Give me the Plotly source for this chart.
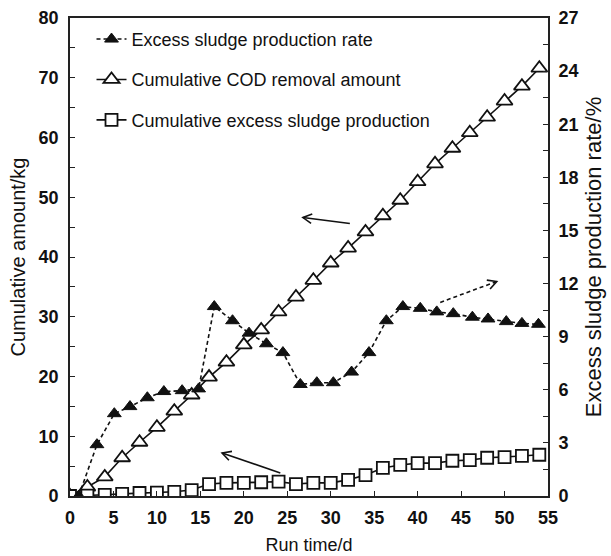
import math
import plotly.graph_objects as go

# ---------------- data ----------------
run_days = [0, 2, 4, 6, 8, 10, 12, 14, 16, 18, 20, 22, 24, 26, 28,
            30, 32, 34, 36, 38, 40, 42, 44, 46, 48, 50, 52, 54]
cod_removal = [0, 1.5, 3.2, 6.4, 9.0, 11.5, 14.2, 16.9, 19.9, 22.4, 25.3, 27.8, 30.8, 33.3, 36.1,
               39.0, 41.5, 44.2, 46.9, 49.5, 52.6, 55.6, 58.2, 60.8, 63.4, 66.1, 68.6, 71.6]
sludge_cum = [0, 0.05, 0.2, 0.35, 0.5, 0.55, 0.7, 1.0, 2.0, 2.2, 2.2, 2.3, 2.4, 2.0, 2.2,
              2.2, 2.7, 3.5, 4.7, 5.2, 5.5, 5.5, 5.9, 6.0, 6.4, 6.5, 6.7, 6.9]

rate_days = [1, 3.1, 5.1, 6.9, 8.9, 10.8, 12.9, 14.8, 16.6, 18.7, 20.6, 22.6, 24.5, 26.5,
             28.4, 30.3, 32.4, 34.4, 36.4, 38.3, 40.3, 42.2, 44.1, 46.3, 48.1, 50.2, 52.0, 53.9]
rate_pct = [0, 2.9, 4.65, 5.05, 5.55, 5.9, 5.95, 6.05, 10.7, 9.9, 9.2, 8.6, 8.1, 6.3,
            6.4, 6.4, 7.0, 8.1, 9.9, 10.7, 10.6, 10.4, 10.3, 10.1, 10.0, 9.85, 9.75, 9.7]

names = ["Excess sludge production rate", "Cumulative COD removal amount",
         "Cumulative excess sludge production"]

x_range = [0, 55]
y_range = [0, 80]
y2_range = [0, 27]

# annotation arrows: (tail_x, tail_y, tip_x, tip_y, dashed) in left-axis data units
arrows = [
    (32.2, 45.6, 26.8, 46.6, False),
    (42.6, 32.4, 49.1, 35.9, True),
    (24.2, 3.85, 17.5, 7.2, False),
]

# ---------------- layout geometry ----------------
W, H = 611, 556
ML, MR, MT, MB = 70, 63, 18, 60
PW, PH = W - ML - MR, H - MT - MB

FONT = "Liberation Sans, Arial, sans-serif"
INK = "#111111"

fig = go.Figure()

fig.add_trace(go.Scatter(
    x=rate_days, y=rate_pct, yaxis="y2", name=names[0], mode="lines+markers",
    line=dict(color=INK, width=1.6, dash="4px,3px"),
    marker=dict(symbol="triangle-up", size=12, color=INK, line=dict(color=INK, width=1)),
    legendgroup="a", legendrank=1,
))
fig.add_trace(go.Scatter(
    x=run_days, y=cod_removal, name=names[1], mode="lines+markers",
    line=dict(color=INK, width=1.6),
    marker=dict(symbol="triangle-up", size=14, color="white", line=dict(color=INK, width=1.8)),
    legendgroup="b", legendrank=2,
))
fig.add_trace(go.Scatter(
    x=run_days, y=sludge_cum, name=names[2], mode="lines+markers",
    line=dict(color=INK, width=1.6),
    marker=dict(symbol="square", size=12, color="white", line=dict(color=INK, width=1.8)),
    legendgroup="c", legendrank=3,
))

# arrows drawn as shapes (line + open V head)
sx = PW / (x_range[1] - x_range[0])
sy = PH / (y_range[1] - y_range[0])
for tx, ty, hx, hy, dashed in arrows:
    dash = "4px,3px" if dashed else "solid"
    fig.add_shape(type="line", xref="x", yref="y", x0=tx, y0=ty, x1=hx, y1=hy,
                  line=dict(color=INK, width=1.6, dash=dash))
    dxp = (hx - tx) * sx
    dyp = (hy - ty) * sy
    L = math.hypot(dxp, dyp)
    ux, uy = dxp / L, dyp / L
    head, ang = 10, math.radians(28)
    pts = []
    for s in (1, -1):
        c, si = math.cos(s * ang), math.sin(s * ang)
        bx = -(ux * c - uy * si) * head
        by = -(ux * si + uy * c) * head
        pts.append((hx + bx / sx, hy + by / sy))
    path = f"M{pts[0][0]},{pts[0][1]} L{hx},{hy} L{pts[1][0]},{pts[1][1]}"
    fig.add_shape(type="path", xref="x", yref="y", path=path,
                  line=dict(color=INK, width=1.6))

axis_common = dict(
    showline=True, linecolor="#222", linewidth=1.6, showgrid=False, zeroline=False,
    ticks="inside", ticklen=5, tickwidth=1.4, tickcolor="#222", automargin=False,
    tickfont=dict(family=FONT, size=18, color=INK, weight="bold"),
)

fig.update_layout(
    width=W, height=H,
    margin=dict(l=ML, r=MR, t=MT, b=MB),
    paper_bgcolor="white", plot_bgcolor="white",
    font=dict(family=FONT, size=18, color=INK),
    showlegend=True,
    legend=dict(x=0.045, y=0.994, xanchor="left", yanchor="top",
                bgcolor="rgba(0,0,0,0)", traceorder="grouped", tracegroupgap=14,
                font=dict(family=FONT, size=18, color=INK)),
    xaxis=dict(range=x_range, dtick=5, tick0=0, mirror=True, ticklabelstandoff=5,
               title=dict(text="Run time/d", standoff=11,
                          font=dict(family=FONT, size=18, color=INK)),
               **axis_common),
    yaxis=dict(range=y_range, dtick=10, tick0=0, ticklabelstandoff=6,
               minor=dict(dtick=5, ticks="inside", ticklen=5, tickcolor="#222", tickwidth=1.4),
               title=dict(text="Cumulative amount/kg", standoff=8,
                          font=dict(family=FONT, size=20, color=INK)),
               **axis_common),
    yaxis2=dict(range=y2_range, dtick=3, tick0=0, overlaying="y", side="right",
                ticklabelstandoff=5,
                minor=dict(dtick=1.5, ticks="inside", ticklen=5, tickcolor="#222", tickwidth=1.4),
                title=dict(text="Excess sludge production rate/%", standoff=8,
                           font=dict(family=FONT, size=22, color=INK)),
                **axis_common),
)

fig.write_html("out.html")
